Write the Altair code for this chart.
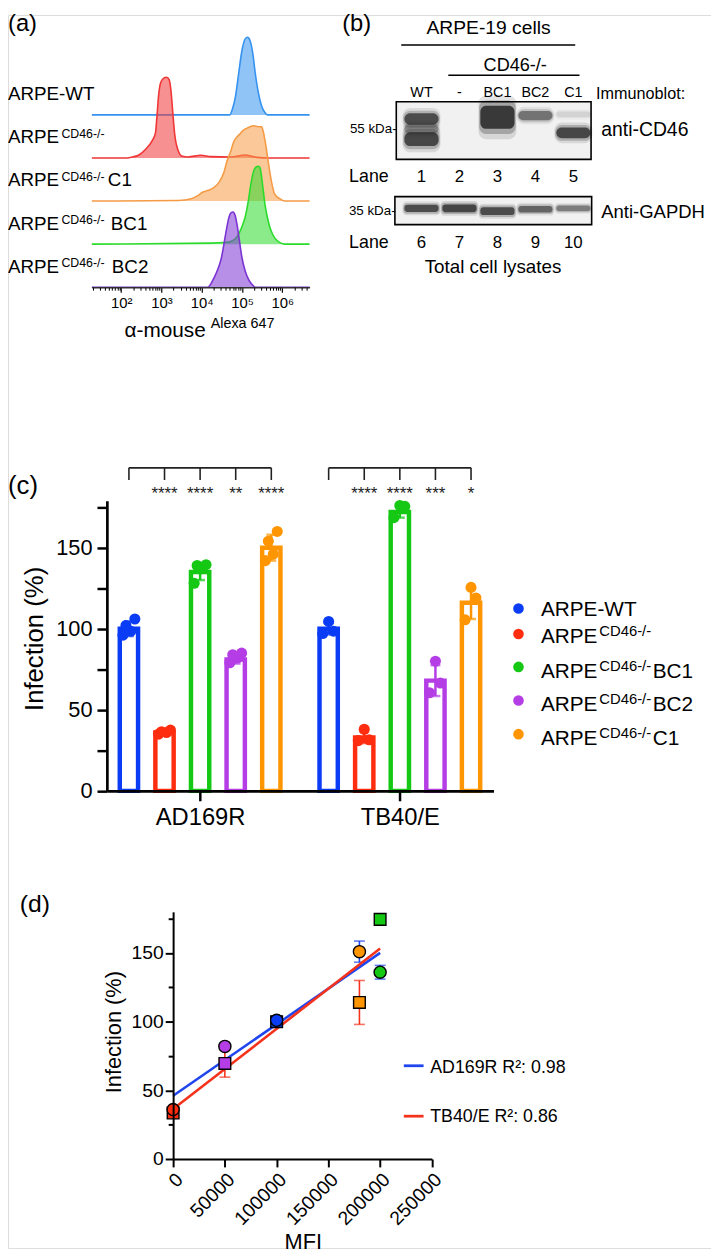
import altair as alt
import pandas as pd

FONT = "Liberation Sans"
W, H = 711, 1247


def P(v):
    """page pixel -> chart pixel (the page has an 8px margin)"""
    return v - 8


# ======================= DATA =======================
# ---- (a) flow cytometry: log10 fluorescence and relative count (% of max) ----
hist_main = ["ARPE-WT", "ARPE", "ARPE", "ARPE", "ARPE"]
hist_sup = ["", "CD46-/-", "CD46-/-", "CD46-/-", "CD46-/-"]
hist_suffix = ["", "", "C1", "BC1", "BC2"]
hist_colors = ["#3592ef", "#f03636", "#f59b45", "#2bdb2b", "#7b33d3"]

wt_log = [1.27, 4.70, 4.76, 4.84, 4.92, 5.00, 5.08, 5.14, 5.20, 5.27, 5.33, 5.41, 5.49, 5.57, 5.63, 6.68]
wt_cnt = [0, 0, 7, 24, 54, 83, 98, 100, 96, 79, 54, 28, 11, 3, 0, 0]
ko_log = [1.27, 2.15, 2.28, 2.44, 2.60, 2.76, 2.85, 2.89, 2.93, 2.98, 3.05, 3.13, 3.19, 3.24, 3.28,
          3.33, 3.42, 3.50, 3.66, 3.98, 4.23, 4.72, 5.08, 5.37, 5.69, 6.68]
ko_cnt = [0, 0, 1.3, 3.8, 11, 21.5, 32, 55, 81, 97, 102.5, 104, 101, 85, 59.5,
          30, 9, 2.5, 1.3, 3.4, 1.7, 1.3, 3.8, 0.8, 0, 0]
c1_log = [1.27, 3.42, 3.74, 3.90, 4.02, 4.15, 4.31, 4.43, 4.55, 4.63, 4.72, 4.80, 4.88, 4.96,
          5.04, 5.12, 5.20, 5.29, 5.41, 5.49, 5.53, 5.59, 5.65, 5.73, 5.81, 5.94, 6.06, 6.68]
c1_cnt = [0, 0.8, 3, 7, 11.4, 13.5, 17.7, 24, 36.7, 51.5, 64, 77, 83, 87,
          91.6, 93.7, 95.8, 97, 95.8, 95.8, 89.5, 72.6, 51.5, 26, 9.3, 3, 0, 0]
bc1_log = [1.27, 4.23, 4.55, 4.72, 4.88, 5.00, 5.08, 5.16, 5.22, 5.29, 5.34, 5.41, 5.45, 5.49,
           5.53, 5.57, 5.63, 5.69, 5.77, 5.90, 6.06, 6.68]
bc1_cnt = [0, 1.3, 2, 3.4, 9.7, 22.4, 35, 56, 77, 94, 99, 100.4, 98.3, 85.7,
           68.8, 52, 35, 22.4, 11.8, 3.4, 0, 0]
bc2_log = [1.27, 4.15, 4.27, 4.35, 4.43, 4.49, 4.55, 4.62, 4.68, 4.73, 4.78, 4.83, 4.88, 4.94,
           5.00, 5.08, 5.16, 5.24, 5.33, 6.68]
bc2_cnt = [0, 0, 8.4, 16.9, 27.4, 38, 54.9, 76, 90.7, 96.2, 97, 92.8, 80, 59,
           38, 21, 10.5, 4.2, 0, 0]
hist_log = [wt_log, ko_log, c1_log, bc1_log, bc2_log]
hist_cnt = [wt_cnt, ko_cnt, c1_cnt, bc1_cnt, bc2_cnt]
flow_ticks = [1e2, 1e3, 1e4, 1e5, 1e6]
flow_title = "α-mouse"
flow_title_sup = "Alexa 647"

# ---- (b) immunoblot ----
blot_header = "ARPE-19 cells"
blot_sub = "CD46-/-"
blot_lanes = ["WT", "-", "BC1", "BC2", "C1"]
lane_no_top = ["1", "2", "3", "4", "5"]
lane_no_bottom = ["6", "7", "8", "9", "10"]
cd46_lane = [1, 1, 1, 3, 4, 5, 5]
cd46_pos = [0.30, 0.47, 0.65, 0.27, 0.24, 0.54, 0.22]
cd46_thick = [0.20, 0.16, 0.24, 0.40, 0.16, 0.19, 0.10]
cd46_int = [0.85, 0.40, 0.90, 1.00, 0.60, 0.90, 0.12]
gapdh_lane = [1, 2, 3, 4, 5]
gapdh_pos = [0.42, 0.42, 0.52, 0.45, 0.42]
gapdh_thick = [0.26, 0.28, 0.28, 0.24, 0.20]
gapdh_int = [0.85, 0.90, 0.85, 0.70, 0.55]

# ---- (c) infection bar chart ----
groups = ["AD169R", "TB40/E"]
series_keys = ["WT", "CD46-/-", "BC1", "BC2", "C1"]
series_colors = ["#0a3cf5", "#ff2d10", "#14c814", "#b53de6", "#ff9500"]
legend_main = ["ARPE-WT", "ARPE", "ARPE", "ARPE", "ARPE"]
legend_sup = ["", "CD46-/-", "CD46-/-", "CD46-/-", "CD46-/-"]
legend_suffix = ["", "", "BC1", "BC2", "C1"]
mean_ad = [100, 36, 135, 81, 150]
sd_ad = [4.5, 1.0, 5.0, 2.5, 8.0]
mean_tb = [100, 33, 172, 68, 116]
sd_tb = [3.5, 3.5, 3.5, 9.5, 10.0]
pts_ad = [[96, 98.5, 102, 106], [35, 36, 36.5, 37.5], [128, 137, 139, 139.5],
          [79, 82, 84, 85], [142, 146, 154, 160]]
pts_tb = [[97, 98.5, 104.5], [31, 31.5, 38], [168.5, 175.5, 176],
          [60.5, 66.5, 80], [105.5, 119, 125.5]]
stars_ad = ["****", "****", "**", "****"]
stars_tb = ["****", "****", "***", "*"]

# ---- (d) MFI vs infection ----
viruses = ["AD169R", "TB40/E"]
virus_colors = ["#1f45ee", "#f5321c"]
mfi_cells = ["CD46-/-", "BC2", "WT", "C1", "BC1"]
mfi_values = [0, 50000, 100000, 180000, 200000]
d_ad_inf = [36, 82, 101, 151, 136]
d_ad_err = [1.5, 2.5, 3, 7.7, 5]
d_tb_inf = [33.5, 69.6, 100, 114, 174.5]
d_tb_err = [3, 10, 2, 16, 3.5]
r2_labels = ["AD169R R²: 0.98", "TB40/E R²:  0.86"]

# ======================= HELPERS =======================
layers = []


def texts(items, align="left", baseline="alphabetic", angle=None, color="black"):
    df = pd.DataFrame([{"t": t, "x": P(x), "y": P(y), "fs": fs} for (t, x, y, fs) in items])
    kw = dict(font=FONT, align=align, baseline=baseline, color=color)
    if angle is not None:
        kw["angle"] = angle
    return alt.Chart(df).mark_text(**kw).encode(
        x=alt.X("x:Q", scale=None, axis=None),
        y=alt.Y("y:Q", scale=None, axis=None),
        text="t:N",
        size=alt.Size("fs:Q", scale=None, legend=None),
    )


def segs(items, color="black", width=1.5):
    df = pd.DataFrame([{"x": P(a), "x2": P(b), "y": P(c), "y2": P(d)} for (a, b, c, d) in items])
    return alt.Chart(df).mark_rule(color=color, strokeWidth=width).encode(
        x=alt.X("x:Q", scale=None, axis=None), x2="x2:Q",
        y=alt.Y("y:Q", scale=None, axis=None), y2="y2:Q",
    )


def box(x1, x2, y1, y2, fill, stroke, sw):
    df = pd.DataFrame({"a": [0]})
    kw = dict(strokeWidth=sw)
    kw["fill"] = fill if fill else "transparent"
    if stroke:
        kw["stroke"] = stroke
    return alt.Chart(df).mark_rect(**kw).encode(
        x=alt.value(P(x1)), x2=alt.value(P(x2)), y=alt.value(P(y1)), y2=alt.value(P(y2)))


def ax(**kw):
    base = dict(title=None, grid=False, labelFont=FONT, labelColor="black",
                tickColor="black", domainColor="black", zindex=1, labelOverlap=False)
    base.update(kw)
    return alt.Axis(**base)


# ======================= (a) =======================
XA = alt.Scale(type="log", domain=[10 ** 1.268, 10 ** 6.68], range=[P(92.7), P(313)], nice=False)
YA = alt.Scale(domain=[0, 4], range=[P(283.3), P(109)], zero=False, nice=False)
sup_digits = "['⁰','¹','²','³','⁴','⁵','⁶','⁷']"
axis_a = ax(orient="bottom", offset=P(283.3) - H, values=flow_ticks,
            labelExpr=f"'10' + {sup_digits}[round(log(datum.value)/LN10)]",
            labelFontSize=15, labelPadding=4, tickSize=5, tickWidth=1.2,
            domainWidth=1.5, domainColor="#333")
minor_vals = [m * 10 ** k for k in range(1, 7) for m in range(2, 10) if 10 ** 1.27 < m * 10 ** k < 10 ** 6.68]
axis_a_minor = ax(orient="bottom", offset=P(283.3) - H, values=minor_vals, labels=False,
                  domain=False, tickSize=3, tickWidth=1)

for i in range(5):
    row = 4 - i
    df = pd.DataFrame({"lg": hist_log[i], "cnt": hist_cnt[i]})
    base = alt.Chart(df).transform_calculate(
        fl="pow(10, datum.lg)", top=f"{row} + datum.cnt*0.018", bot=f"{row}")
    c = hist_colors[i]
    layers.append(base.mark_area(fill=c, fillOpacity=0.55, interpolate="monotone").encode(
        x=alt.X("fl:Q", scale=XA, axis=axis_a if i == 0 else None),
        y=alt.Y("top:Q", scale=YA, axis=None), y2="bot:Q"))
    layers.append(base.mark_line(color=c, strokeWidth=1.6, interpolate="monotone").encode(
        x=alt.X("fl:Q", scale=XA, axis=axis_a_minor if i == 4 else None),
        y=alt.Y("top:Q", scale=YA, axis=None)))

lab_a_main, lab_a_sup, lab_a_suf = [], [], []
suffix_x = {"C1": 109, "BC1": 112, "BC2": 113}
for i in range(5):
    yb = 94 + 43.7 * i
    lab_a_main.append((hist_main[i], 8, yb, 19))
    if hist_sup[i]:
        lab_a_sup.append((hist_sup[i], 62, yb - 5.5, 12.5))
    if hist_suffix[i]:
        lab_a_suf.append((hist_suffix[i], suffix_x[hist_suffix[i]], yb, 19))
layers += [texts(lab_a_main), texts(lab_a_sup), texts(lab_a_suf)]
layers.append(texts([(flow_title, 208, 334, 21)], align="right"))
layers.append(texts([(flow_title_sup, 213, 325, 14.5)]))
layers.append(texts([("(a)", 8, 17, 24), ("(b)", 346, 17, 24)], baseline="middle"))

# ======================= (b) =======================
XB = alt.Scale(domain=[0.5, 5.5], range=[P(407), P(599)], zero=False, nice=False)
YB1 = alt.Scale(domain=[0, 1], range=[P(95.7), P(154)], zero=False, nice=False)
YB2 = alt.Scale(domain=[0, 1], range=[P(191.7), P(220)], zero=False, nice=False)


def band_layer(lane, pos, th, it, ys, grow, fade, hw, rad):
    df = pd.DataFrame({"lane": lane, "pos": pos, "th": th, "it": it})
    return alt.Chart(df).transform_calculate(
        xa=f"datum.lane-{hw}", xb=f"datum.lane+{hw}",
        ya=f"datum.pos-datum.th*{grow}/2", yb=f"datum.pos+datum.th*{grow}/2",
        op=f"datum.it*{fade}",
    ).mark_rect(color="#151515", cornerRadius=rad).encode(
        x=alt.X("xa:Q", scale=XB, axis=None), x2="xb:Q",
        y=alt.Y("ya:Q", scale=ys, axis=None), y2="yb:Q",
        opacity=alt.Opacity("op:Q", scale=None, legend=None),
    )


layers.append(box(400.7, 597.7, 95.7, 154, "#f1f1f1", None, 0))
layers.append(box(399.3, 598.3, 191.7, 220, "#f1f1f1", None, 0))
for grow, fade, hw, rad in [(1.9, 0.12, 0.5, 8), (1.45, 0.25, 0.48, 7), (1.0, 0.75, 0.45, 6)]:
    layers.append(band_layer(cd46_lane, cd46_pos, cd46_thick, cd46_int, YB1, grow, fade, hw, rad))
    layers.append(band_layer(gapdh_lane, gapdh_pos, gapdh_thick, gapdh_int, YB2, grow, fade, hw, rad / 2))
layers.append(box(400.7, 597.7, 95.7, 154, None, "black", 1.6))
layers.append(box(399.3, 598.3, 191.7, 220, None, "black", 1.6))


def lane_text(labels, y, fs):
    df = pd.DataFrame({"lane": [1, 2, 3, 4, 5], "lab": labels})
    return alt.Chart(df).mark_text(font=FONT, fontSize=fs, baseline="middle", color="black").encode(
        x=alt.X("lane:Q", scale=XB, axis=None), y=alt.value(P(y)), text="lab:N")


layers.append(lane_text(blot_lanes, 87.3, 14.5))
layers.append(lane_text(lane_no_top, 171.7, 17))
layers.append(lane_text(lane_no_bottom, 238.3, 17))
layers.append(texts([(blot_header, 494, 21.7, 19.5), (blot_sub, 521, 60, 18.3),
                     ("Total cell lysates", 498.5, 263, 19)], align="center", baseline="middle"))
layers.append(segs([(405.7, 581.7, 38.3, 38.3), (453.3, 586, 69, 69)], width=1.5))
layers.append(texts([("Immunoblot:", 602.7, 87.5, 16.4), ("anti-CD46", 608, 124, 19.6),
                     ("Anti-GAPDH", 608, 207, 18.7)], baseline="middle"))
layers.append(texts([("55 kDa-", 401, 123.3, 13.5), ("35 kDa-", 400, 206.7, 13.5),
                     ("Lane", 393, 171.7, 18), ("Lane", 393, 238.3, 18)],
                    align="right", baseline="middle"))

# ======================= (c) =======================
UNIT = 202.0
XC = alt.Scale(domain=[(108 - 202.3) / UNIT, (499 - 202.3) / UNIT], range=[P(108), P(499)],
               zero=False, nice=False)
YC = alt.Scale(domain=[0, 178.9], range=[P(792.7), P(499.3)], zero=False, nice=False)
CS = alt.Scale(domain=series_keys, range=series_colors)
STEP = 36.0 / UNIT
HW = 9.25 / UNIT
JIT = {4: [-6, 2, -3, 6], 3: [-6, 5, 0]}

bar_rows, pt_rows = [], []
for g, (means, sds, pts) in enumerate([(mean_ad, sd_ad, pts_ad), (mean_tb, sd_tb, pts_tb)]):
    for s in range(5):
        xc = g + (s - 2) * STEP
        bar_rows.append({"grp": groups[g], "line": series_keys[s], "xc": xc, "mean": means[s],
                         "lo": means[s] - sds[s], "hi": means[s] + sds[s]})
        vals = pts[s]
        for k, v in enumerate(vals):
            pt_rows.append({"line": series_keys[s], "xp": xc + JIT[len(vals)][k] / UNIT, "v": v})
df_bar = pd.DataFrame(bar_rows)
df_pts = pd.DataFrame(pt_rows)

axis_cx = ax(orient="bottom", offset=P(792.7) - H, values=[0, 1],
             labelExpr=f"datum.value == 0 ? '{groups[0]}' : '{groups[1]}'",
             labelFontSize=24, labelPadding=5, tickSize=10, tickWidth=2.5, domainWidth=2.7)
axis_cy = ax(orient="left", offset=-P(108), values=[0, 50, 100, 150], labelFontSize=22,
             labelPadding=5, tickSize=10, tickWidth=2.5, domainWidth=2.7)
axis_cy_minor = ax(orient="left", offset=-P(108), values=[25, 75, 125, 175], labels=False,
                   domain=False, tickSize=10, tickWidth=2.5)

layers.append(alt.Chart(df_bar).transform_calculate(
    x1=f"datum.xc-{HW}", x2=f"datum.xc+{HW}").mark_bar(fill="white", fillOpacity=1, strokeWidth=4.5).encode(
    x=alt.X("x1:Q", scale=XC, axis=axis_cx), x2="x2:Q",
    y=alt.Y("mean:Q", scale=YC, axis=axis_cy), y2=alt.datum(0),
    stroke=alt.Stroke("line:N", scale=CS, legend=None)))
layers.append(alt.Chart(df_bar).mark_rule(strokeWidth=2.5).encode(
    x=alt.X("xc:Q", scale=XC, axis=None),
    y=alt.Y("lo:Q", scale=YC, axis=axis_cy_minor), y2="hi:Q",
    color=alt.Color("line:N", scale=CS, legend=None)))
layers.append(alt.Chart(df_bar).transform_fold(["lo", "hi"], as_=["end", "ev"]).mark_tick(
    orient="horizontal", size=10, thickness=2.5).encode(
    x=alt.X("xc:Q", scale=XC, axis=None),
    y=alt.Y("ev:Q", scale=YC, axis=None),
    color=alt.Color("line:N", scale=CS, legend=None)))
layers.append(alt.Chart(df_pts).mark_circle(size=125, opacity=1).encode(
    x=alt.X("xp:Q", scale=XC, axis=None),
    y=alt.Y("v:Q", scale=YC, axis=None),
    color=alt.Color("line:N", scale=CS, legend=None)))

# significance brackets
br_h, br_v, st_rows = [], [], []
for g, stars in enumerate([stars_ad, stars_tb]):
    xs = [g + (s - 2) * STEP for s in range(5)]
    br_h.append({"x": xs[0], "x2": xs[-1]})
    for s in range(5):
        br_v.append({"x": xs[s]})
        if s > 0:
            st_rows.append({"x": xs[s], "t": stars[s - 1]})
layers.append(alt.Chart(pd.DataFrame(br_h)).mark_rule(color="#222", strokeWidth=1.6).encode(
    x=alt.X("x:Q", scale=XC, axis=None), x2="x2:Q", y=alt.value(P(466))))
layers.append(alt.Chart(pd.DataFrame(br_v)).mark_rule(color="#222", strokeWidth=1.6).encode(
    x=alt.X("x:Q", scale=XC, axis=None), y=alt.value(P(466)), y2=alt.value(P(478.3))))
layers.append(alt.Chart(pd.DataFrame(st_rows)).mark_text(
    font=FONT, fontSize=17, baseline="alphabetic", color="#222").encode(
    x=alt.X("x:Q", scale=XC, axis=None), y=alt.value(P(497)), text="t:N"))

# legend (c)
leg_dot_y = [608.3, 634, 667.3, 701.3, 735.3]
leg_base_y = [616, 643.3, 678.3, 711.7, 746]
df_leg = pd.DataFrame({"line": series_keys, "x": [P(524.3)] * 5, "y": [P(v) for v in leg_dot_y]})
layers.append(alt.Chart(df_leg).mark_circle(size=115, opacity=1).encode(
    x=alt.X("x:Q", scale=None, axis=None), y=alt.Y("y:Q", scale=None, axis=None),
    color=alt.Color("line:N", scale=CS, legend=None)))
layers.append(texts([(legend_main[i], 547, leg_base_y[i], 21) for i in range(5)]))
layers.append(texts([(legend_sup[i], 606, leg_base_y[i] - 7, 15) for i in range(5) if legend_sup[i]]))
layers.append(texts([(legend_suffix[i], 660, leg_base_y[i], 21) for i in range(5) if legend_suffix[i]]))
layers.append(texts([("Infection (%)", 35, 639, 26)], align="center", baseline="middle", angle=270))
layers.append(texts([("(c)", 8, 484, 26)], baseline="middle"))

# ======================= (d) =======================
XD = alt.Scale(domain=[0, 250000], range=[P(175), P(436.7)], zero=False, nice=False)
YD = alt.Scale(domain=[0, 180], range=[P(1165), P(915)], zero=False, nice=False)
VS = alt.Scale(domain=viruses, range=virus_colors)

d_rows = []
for v, infs, errs, shp in [(viruses[0], d_ad_inf, d_ad_err, "circle"), (viruses[1], d_tb_inf, d_tb_err, "square")]:
    for k in range(5):
        d_rows.append({"virus": v, "line": mfi_cells[k], "mfi": mfi_values[k], "inf": infs[k],
                       "lo": infs[k] - errs[k], "hi": infs[k] + errs[k], "shape": shp})
df_d = pd.DataFrame(d_rows)

axis_dx = ax(orient="bottom", offset=P(1165) - H, values=[0, 50000, 100000, 150000, 200000, 250000],
             format="d", labelAngle=315, labelFontSize=19.5, labelPadding=3, tickSize=8,
             tickWidth=2, domainWidth=2)
axis_dy = ax(orient="left", offset=-P(175), values=[0, 50, 100, 150], labelFontSize=19.5,
             labelPadding=2, tickSize=8, tickWidth=2, domainWidth=2)
axis_dy_minor = ax(orient="left", offset=-P(175), values=[25, 75, 125, 175], labels=False,
                   domain=False, tickSize=5, tickWidth=2)

for v in [viruses[1], viruses[0]]:
    sub = df_d[df_d.virus == v]
    layers.append(alt.Chart(sub).mark_rule(strokeWidth=1.6).encode(
        x=alt.X("mfi:Q", scale=XD, axis=None),
        y=alt.Y("lo:Q", scale=YD, axis=None), y2="hi:Q",
        color=alt.Color("virus:N", scale=VS, legend=None)))
    layers.append(alt.Chart(sub).transform_fold(["lo", "hi"], as_=["end", "ev"]).mark_tick(
        orient="horizontal", size=11, thickness=1.6).encode(
        x=alt.X("mfi:Q", scale=XD, axis=None),
        y=alt.Y("ev:Q", scale=YD, axis=None),
        color=alt.Color("virus:N", scale=VS, legend=None)))

layers.append(alt.Chart(df_d).transform_regression(
    "mfi", "inf", groupby=["virus"], extent=[0, 200000]).mark_line(strokeWidth=2.6).encode(
    x=alt.X("mfi:Q", scale=XD, axis=axis_dx),
    y=alt.Y("inf:Q", scale=YD, axis=axis_dy),
    color=alt.Color("virus:N", scale=VS, legend=None)))

for shp, size in [("square", 140), ("circle", 150)]:
    sub = df_d[df_d["shape"] == shp]
    layers.append(alt.Chart(sub).mark_point(filled=True, shape=shp, size=size, stroke="black",
                                            strokeWidth=1.4, opacity=1).encode(
        x=alt.X("mfi:Q", scale=XD, axis=None),
        y=alt.Y("inf:Q", scale=YD, axis=axis_dy_minor if shp == "square" else None),
        fill=alt.Fill("line:N", scale=CS, legend=None)))

# legend (d)
layers.append(segs([(408.3, 428.3, 1070.7, 1070.7)], color=virus_colors[0], width=2.8))
layers.append(segs([(408.3, 428.3, 1121.7, 1121.7)], color=virus_colors[1], width=2.8))
layers.append(texts([(r2_labels[0], 435, 1077.7, 18), (r2_labels[1], 435, 1127.7, 18)]))
layers.append(texts([("Infection (%)", 115, 1036.7, 22)], align="center", baseline="middle", angle=270))
layers.append(texts([("MFI", 306.7, 1256, 22)], align="center"))
layers.append(texts([("(d)", 20, 907, 25)], baseline="middle"))

# ======================= ASSEMBLE =======================
chart = alt.layer(*layers).properties(
    width=W, height=H, autosize=alt.AutoSizeParams(type="none"), padding=0
).resolve_scale(
    x="independent", y="independent", color="independent", fill="independent",
    stroke="independent", size="independent", opacity="independent"
).resolve_axis(x="independent", y="independent").configure_view(stroke=None).configure(
    font=FONT, background="white")

chart.save("out.html", embed_options={"renderer": "svg", "actions": False})
